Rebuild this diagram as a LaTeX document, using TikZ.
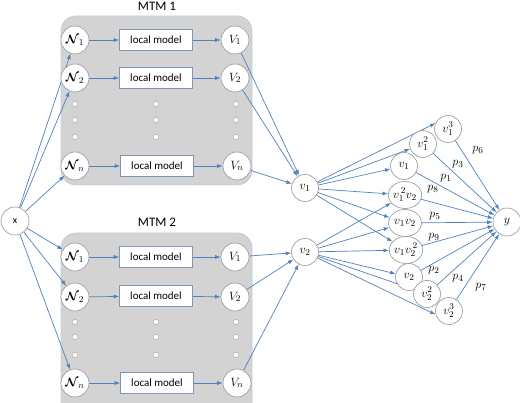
\documentclass[tikz,border=0pt]{standalone}
\usepackage{fontspec}
\usepackage{amsmath,amssymb}
\setmainfont{Carlito}
\usetikzlibrary{arrows.meta,shapes.geometric}
\pgfdeclarelayer{panels}
\pgfdeclarelayer{edges}
\pgfsetlayers{panels,edges,main}
\definecolor{arr}{RGB}{79,129,189}
\definecolor{cgray}{RGB}{150,150,150}
\definecolor{pfill}{RGB}{211,211,211}
\definecolor{pdraw}{RGB}{195,205,220}
\definecolor{bdraw}{RGB}{125,150,180}
\tikzset{
  panel/.style={draw=pdraw, fill=pfill, rounded corners=15pt, line width=0.8pt},
  circ/.style={circle, draw=cgray, fill=white, line width=0.6pt, minimum size=28pt, inner sep=0pt, font=\fontsize{13}{15}\selectfont},
  smallc/.style={circ, minimum size=27pt},
  prodc/.style={ellipse, draw=cgray, fill=white, line width=0.6pt, minimum width=33pt, minimum height=27pt, inner sep=0pt, font=\fontsize{13}{15}\selectfont},
  lbox/.style={draw=bdraw, fill=white, line width=0.6pt, minimum width=73pt, minimum height=21pt, inner sep=0pt, font=\fontsize{11}{13}\selectfont},
  dot/.style={ellipse, draw=cgray, fill=white, line width=0.4pt, minimum width=6pt, minimum height=5pt, inner sep=0pt},
  ttl/.style={font=\fontsize{13}{15}\selectfont},
  arrow/.style={draw=arr, line width=0.7pt, -{Latex[length=5.5pt,width=4pt]}},
  plab/.style={font=\fontsize{13}{15}\selectfont, inner sep=0pt}
}
\newcommand{\Nc}[1]{$\boldsymbol{\mathcal{N}}_{#1}$}
\begin{document}
\begin{tikzpicture}[x=1pt,y=-1pt]
\useasboundingbox (0,0) rectangle (520,403);
% panels
\begin{pgfonlayer}{panels}
\draw[panel] (61,16) rectangle (252,185);
\draw[panel] (61,233) rectangle (252,418);
\end{pgfonlayer}
\node[ttl] (t1) at (157,6) {MTM 1};
\node[ttl] (t2) at (157,222) {MTM 2};
% x
\node[circ, font=\normalsize] (x) at (15,221) {x};
% MTM 1
\node[circ] (a1) at (75,40) {\Nc{1}};
\node[circ] (a2) at (75,78) {\Nc{2}};
\node[circ] (an) at (75,166) {\Nc{n}};
\node[lbox] (b1) at (156,40) {local model};
\node[lbox] (b2) at (156,78) {local model};
\node[lbox] (bn) at (157,166) {local model};
\node[circ] (c1) at (235,40) {$V_1$};
\node[circ] (c2) at (235,78) {$V_2$};
\node[circ] (cn) at (237,166) {$V_n$};
\foreach \i/\yy in {1/104,2/120,3/137}{
  \node[dot] (da\i) at (75,\yy) {};
  \node[dot] (db\i) at (156,\yy) {};
  \node[dot] (dc\i) at (236,\yy) {};
}
% MTM 2
\node[circ] (e1) at (75,257) {\Nc{1}};
\node[circ] (e2) at (75,297) {\Nc{2}};
\node[circ] (en) at (75,383) {\Nc{n}};
\node[lbox] (f1) at (156,257) {local model};
\node[lbox] (f2) at (156,296) {local model};
\node[lbox] (fn) at (157,383) {local model};
\node[circ] (g1) at (235,257) {$V_1$};
\node[circ] (g2) at (235,297) {$V_2$};
\node[circ] (gn) at (237,383) {$V_n$};
\foreach \i/\yy in {1/322,2/337,3/355}{
  \node[dot] (ea\i) at (75,\yy) {};
  \node[dot] (eb\i) at (156,\yy) {};
  \node[dot] (ec\i) at (236,\yy) {};
}
% middle
\node[smallc] (v1) at (305,188) {$v_1$};
\node[smallc] (v2) at (305,252) {$v_2$};
% right column
\node[smallc] (r1) at (448,129) {$v_1^3$};
\node[smallc] (r2) at (423,144) {$v_1^2$};
\node[smallc] (r3) at (404,166) {$v_1$};
\node[prodc] (r4) at (405,195) {$v_1^{\,2}v_2$};
\node[prodc] (r5) at (405,223) {$v_1v_2$};
\node[prodc] (r6) at (406,250) {$v_1v_2^{\,2}$};
\node[smallc] (r7) at (409,277) {$v_2$};
\node[smallc] (r8) at (427,294) {$v_2^2$};
\node[smallc] (r9) at (449,311) {$v_2^3$};
\node[circ] (y) at (507,222) {$y$};
\begin{pgfonlayer}{edges}
% edges x
\foreach \t in {a1,a2,an,e1,e2,en}{\draw[arrow] (x) -- (\t);}
% rows
\foreach \p/\q/\r in {a1/b1/c1,a2/b2/c2,an/bn/cn,e1/f1/g1,e2/f2/g2,en/fn/gn}{
  \draw[arrow] (\p) -- (\q);
  \draw[arrow] (\q) -- (\r);
}
\foreach \s in {c1,c2,cn}{\draw[arrow] (\s) -- (v1);}
\foreach \s in {g1,g2,gn}{\draw[arrow] (\s) -- (v2);}
\draw[arrow] (v1) -- (r1.155);
\foreach \t in {r2,r3,r4,r5,r6}{\draw[arrow] (v1) -- (\t);}
\foreach \t in {r4,r5,r6,r7,r8}{\draw[arrow] (v2) -- (\t);}
\draw[arrow] (v2) -- (r9.195);
\foreach \s in {r1,r2,r3,r4,r5,r6,r7,r8,r9}{\draw[arrow] (\s) -- (y);}
\end{pgfonlayer}
% labels
\node[plab] (p6) at (478,150) {$p_6$};
\node[plab] (p3) at (458,164) {$p_3$};
\node[plab] (p1) at (446,178) {$p_1$};
\node[plab] (p8) at (433,189) {$p_8$};
\node[plab] (p5) at (435,216) {$p_5$};
\node[plab] (p9) at (434,237) {$p_9$};
\node[plab] (p2) at (434,270) {$p_2$};
\node[plab] (p4) at (458,278) {$p_4$};
\node[plab] (p7) at (481,287) {$p_7$};
\end{tikzpicture}
\end{document}
